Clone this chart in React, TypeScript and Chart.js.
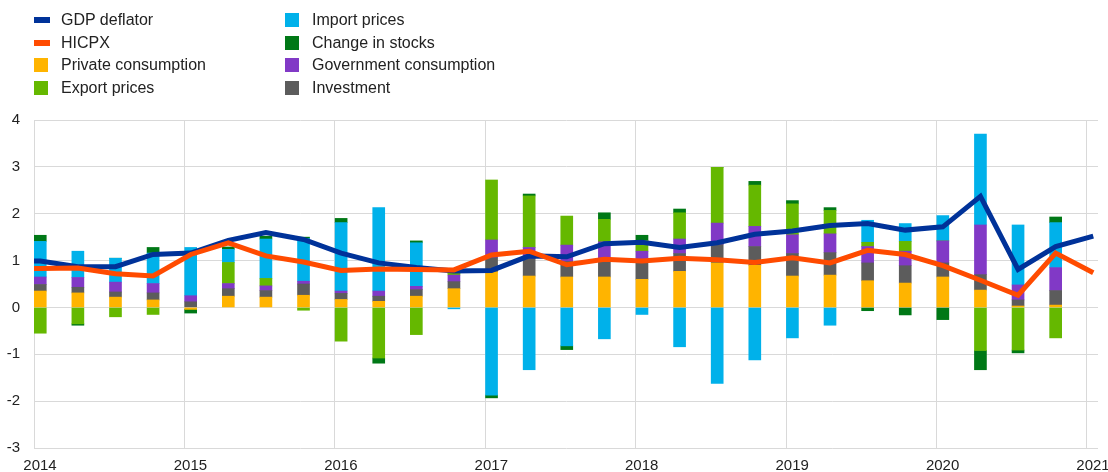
import React, { useEffect, useRef } from "react";
import { Chart, registerables } from "chart.js";

Chart.register(...registerables);

// Quarters for the stacked bars
const barPeriods = [
  "2014Q1", "2014Q2", "2014Q3", "2014Q4",
  "2015Q1", "2015Q2", "2015Q3", "2015Q4",
  "2016Q1", "2016Q2", "2016Q3", "2016Q4",
  "2017Q1", "2017Q2", "2017Q3", "2017Q4",
  "2018Q1", "2018Q2", "2018Q3", "2018Q4",
  "2019Q1", "2019Q2", "2019Q3", "2019Q4",
  "2020Q1", "2020Q2", "2020Q3", "2020Q4",
];
// Quarters for the two lines (line stub from 2013Q4, extends to 2021Q1)
const linePeriods = ["2013Q4", ...barPeriods, "2021Q1"];

const privateConsumption = [
  0.35, 0.31, 0.22, 0.16,
  -0.04, 0.24, 0.22, 0.26,
  0.17, 0.13, 0.24, 0.40,
  0.76, 0.67, 0.65, 0.65,
  0.60, 0.77, 0.95, 0.90,
  0.67, 0.69, 0.57, 0.52,
  0.65, 0.37, 0.03, 0.05,
];
const investment = [
  0.14, 0.12, 0.11, 0.15,
  0.12, 0.16, 0.14, 0.24,
  0.13, 0.11, 0.14, 0.15,
  0.30, 0.37, 0.33, 0.39,
  0.37, 0.38, 0.39, 0.40,
  0.48, 0.48, 0.38, 0.37,
  0.30, 0.33, 0.13, 0.31,
];
const governmentConsumption = [
  0.16, 0.21, 0.21, 0.20,
  0.13, 0.11, 0.10, 0.06,
  0.05, 0.11, 0.07, 0.14,
  0.38, 0.24, 0.35, 0.36,
  0.23, 0.31, 0.46, 0.43,
  0.40, 0.40, 0.35, 0.31,
  0.47, 1.06, 0.32, 0.49,
];
const exportPrices = [
  -0.55, -0.35, -0.20, -0.15,
  0.00, 0.45, 0.16, -0.06,
  -0.72, -1.08, -0.58, 0.04,
  1.28, 1.10, 0.62, 0.48,
  0.23, 0.56, 1.19, 0.88,
  0.66, 0.50, 0.09, 0.21,
  0.00, -0.92, -0.91, -0.65,
];
const importPrices = [
  0.76, 0.56, 0.51, 0.65,
  1.03, 0.28, 0.84, 0.91,
  1.46, 1.78, 0.93, -0.03,
  -1.87, -1.33, -0.82, -0.67,
  -0.15, -0.84, -1.62, -1.12,
  -0.65, -0.38, 0.47, 0.38,
  0.54, 1.94, 1.28, 0.96,
];
const changeInStocks = [
  0.13, -0.03, 0.00, 0.12,
  -0.08, 0.05, 0.06, 0.03,
  0.09, -0.11, 0.04, 0.00,
  -0.06, 0.04, -0.08, 0.14,
  0.11, 0.08, 0.00, 0.08,
  0.07, 0.06, -0.07, -0.16,
  -0.26, -0.41, -0.06, 0.12,
];
const gdpDeflator = [
  0.99,
  0.99, 0.87, 0.87, 1.13,
  1.16, 1.43, 1.60, 1.45,
  1.16, 0.95, 0.85, 0.78,
  0.79, 1.10, 1.08, 1.36,
  1.39, 1.28, 1.38, 1.56,
  1.63, 1.75, 1.79, 1.65,
  1.72, 2.37, 0.81, 1.30,
  1.52,
];
const hicpx = [
  0.82,
  0.83, 0.84, 0.72, 0.67,
  1.13, 1.38, 1.10, 0.97,
  0.79, 0.82, 0.81, 0.80,
  1.12, 1.20, 0.91, 1.03,
  0.99, 1.05, 1.02, 0.96,
  1.06, 0.95, 1.22, 1.13,
  0.89, 0.58, 0.26, 1.16,
  0.74,
];

const yTicks = [-3, -2, -1, 0, 1, 2, 3, 4];
const yearTicks = [2014, 2015, 2016, 2017, 2018, 2019, 2020, 2021];

const COLORS = {
  gdp: "#003299",
  hicpx: "#ff4b00",
  priv: "#ffb400",
  exp: "#65b800",
  imp: "#00b1ea",
  stocks: "#007816",
  gov: "#8139c6",
  inv: "#5c5c5c",
};

const FONT = '"Liberation Sans", Arial, Helvetica, sans-serif';
const TEXT = "#222222";
const GRID = "#d9d9d9";

// period "YYYYQn" -> date position (middle of first month of quarter)
const toX = (p: string) => {
  const y = Number(p.slice(0, 4));
  const q = Number(p.slice(5));
  return y + (q - 1) / 4 + 0.5 / 12;
};

const pts = (periods: string[], vals: number[]) =>
  periods.map((p, i) => ({ x: toX(p), y: vals[i] }));

const legendItems = [
  { label: "GDP deflator", color: COLORS.gdp, line: true, col: 0, row: 0 },
  { label: "HICPX", color: COLORS.hicpx, line: true, col: 0, row: 1 },
  { label: "Private consumption", color: COLORS.priv, line: false, col: 0, row: 2 },
  { label: "Export prices", color: COLORS.exp, line: false, col: 0, row: 3 },
  { label: "Import prices", color: COLORS.imp, line: false, col: 1, row: 0 },
  { label: "Change in stocks", color: COLORS.stocks, line: false, col: 1, row: 1 },
  { label: "Government consumption", color: COLORS.gov, line: false, col: 1, row: 2 },
  { label: "Investment", color: COLORS.inv, line: false, col: 1, row: 3 },
];

export default function App() {
  const ref = useRef<HTMLCanvasElement | null>(null);

  useEffect(() => {
    document.body.style.margin = "0";
    const canvas = ref.current;
    if (!canvas) return;

    const bar = (label: string, vals: number[], color: string) => ({
      type: "bar" as const,
      label,
      data: pts(barPeriods, vals),
      backgroundColor: color,
      borderWidth: 0,
      barThickness: 12,
      order: 2,
      yAxisID: "y",
    });

    const line = (label: string, vals: number[], color: string, order: number) => ({
      type: "line" as const,
      label,
      data: pts(linePeriods, vals),
      borderColor: color,
      backgroundColor: color,
      borderWidth: 5,
      pointRadius: 0,
      tension: 0,
      fill: false,
      order,
      clip: 0,
      yAxisID: "y2",
    });

    const chart = new Chart(canvas, {
      type: "bar",
      data: {
        datasets: [
          line("GDP deflator", gdpDeflator, COLORS.gdp, 1),
          line("HICPX", hicpx, COLORS.hicpx, 0),
          bar("Private consumption", privateConsumption, COLORS.priv),
          bar("Investment", investment, COLORS.inv),
          bar("Government consumption", governmentConsumption, COLORS.gov),
          bar("Export prices", exportPrices, COLORS.exp),
          bar("Import prices", importPrices, COLORS.imp),
          bar("Change in stocks", changeInStocks, COLORS.stocks),
        ] as any,
      },
      options: {
        responsive: false,
        animation: false,
        devicePixelRatio: 1,
        layout: { padding: { top: 120, right: 52, left: 0, bottom: 0 } },
        plugins: {
          legend: { display: false },
          tooltip: { enabled: false },
        },
        scales: {
          x: {
            type: "linear",
            stacked: true,
            offset: false,
            min: yearTicks[0],
            max: yearTicks[yearTicks.length - 1] + 11 / 150.4,
            afterBuildTicks: (s: any) => {
              s.ticks = yearTicks.map((v) => ({ value: v }));
            },
            afterFit: (s: any) => {
              s.height = 24;
            },
            grid: { color: GRID, lineWidth: 1, drawTicks: false, offset: false },
            border: { display: false },
            ticks: {
              autoSkip: false,
              maxRotation: 0,
              minRotation: 0,
              includeBounds: false,
              padding: 9,
              labelOffset: 6,
              color: TEXT,
              font: { family: FONT, size: 15 },
              callback: (v: any) => String(v),
            },
          },
          y: {
            stacked: true,
            min: yTicks[0],
            max: yTicks[yTicks.length - 1],
            afterBuildTicks: (s: any) => {
              s.ticks = yTicks.map((v) => ({ value: v }));
            },
            afterFit: (s: any) => {
              s.width = 34;
            },
            grid: { color: GRID, lineWidth: 1, drawTicks: false },
            border: { display: true, color: GRID },
            ticks: {
              padding: 14,
              color: TEXT,
              font: { family: FONT, size: 15 },
              callback: (v: any) => String(v),
            },
          },
          y2: {
            display: false,
            stacked: false,
            min: yTicks[0],
            max: yTicks[yTicks.length - 1],
          },
        },
      } as any,
    });

    return () => chart.destroy();
  }, []);

  return (
    <div
      style={{
        position: "relative",
        width: 1108,
        height: 472,
        overflow: "hidden",
        fontFamily: FONT,
        background: "#fff",
      }}
    >
      <canvas
        ref={ref}
        width={1150}
        height={472}
        style={{ position: "absolute", left: 0, top: 0, width: 1150, height: 472 }}
      />
      {legendItems.map((it) => {
        const left = it.col === 0 ? 34 : 285;
        const cy = 20 + it.row * 22.67;
        return (
          <div key={it.label} style={{ position: "absolute", left: 0, top: 0 }}>
            <div
              style={{
                position: "absolute",
                left,
                top: it.line ? cy - 3 : cy - 7,
                width: it.line ? 16 : 14,
                height: it.line ? 6 : 14,
                background: it.color,
              }}
            />
            <span
              style={{
                position: "absolute",
                left: left + 27,
                top: cy - 10,
                lineHeight: "20px",
                fontSize: 16,
                color: TEXT,
                whiteSpace: "nowrap",
              }}
            >
              {it.label}
            </span>
          </div>
        );
      })}
    </div>
  );
}
